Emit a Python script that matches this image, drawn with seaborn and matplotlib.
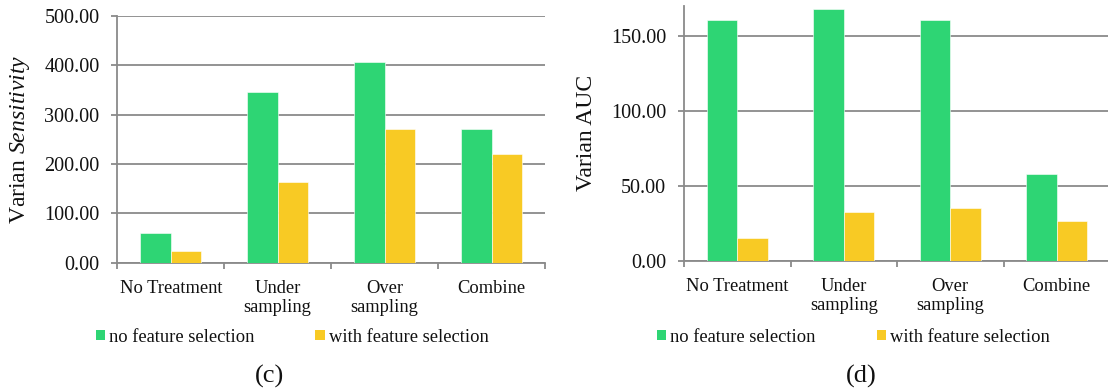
import matplotlib
matplotlib.use("Agg")
import matplotlib.pyplot as plt
from matplotlib.ticker import FixedLocator, FormatStrFormatter
from matplotlib.patches import Patch
import pandas as pd
import seaborn as sns

# ---- data -------------------------------------------------------------
categories = ["No Treatment", "Under\nsampling", "Over\nsampling", "Combine"]
series_names = ["no feature selection", "with feature selection"]

sens_no_fs = [61, 345, 406, 271]
sens_with_fs = [24, 164, 271, 221]

auc_no_fs = [160.5, 168.3, 160.5, 57.8]
auc_with_fs = [15.1, 32.5, 35.3, 26.4]

sens_ticks = [0, 100, 200, 300, 400, 500]
auc_ticks = [0, 50, 100, 150]

# ---- style ------------------------------------------------------------
sns.set_theme(style="white")
plt.rcParams["font.family"] = ["Liberation Serif", "DejaVu Serif"]
plt.rcParams["mathtext.fontset"] = "custom"
plt.rcParams["mathtext.rm"] = "Liberation Serif"
plt.rcParams["mathtext.it"] = "Liberation Serif:italic"

GREEN = "#2ED574"
YELLOW = "#F8CA24"
GRID = "#8a8a8a"
TEXT = "#111111"

W, H = 1108, 391
fig = plt.figure(figsize=(W / 100, H / 100), dpi=100)


def long_frame(a, b):
    rows = []
    for cat, v in zip(categories, a):
        rows.append((cat, series_names[0], v))
    for cat, v in zip(categories, b):
        rows.append((cat, series_names[1], v))
    return pd.DataFrame(rows, columns=["method", "selection", "value"])


def panel(rect_px, df, ticks, ymax, ylabel):
    x0, y_top, x1, y_bot = rect_px
    ax = fig.add_axes([x0 / W, 1 - y_bot / H, (x1 - x0) / W, (y_bot - y_top) / H])
    sns.barplot(
        data=df, x="method", y="value", hue="selection",
        order=categories, hue_order=series_names,
        palette=[GREEN, YELLOW], saturation=1, width=0.57,
        edgecolor="#ffffff", linewidth=0.4, legend=False, ax=ax, zorder=3,
    )
    ax.set_xlim(-0.5, 3.5)
    ax.set_ylim(0, ymax)
    ax.yaxis.set_major_locator(FixedLocator(ticks))
    ax.yaxis.set_major_formatter(FormatStrFormatter("%.2f"))
    ax.grid(axis="y", color=GRID, linewidth=1.3, zorder=0)
    ax.set_axisbelow(True)
    for side in ("top", "right"):
        ax.spines[side].set_visible(False)
    for side in ("left", "bottom"):
        ax.spines[side].set_color(GRID)
        ax.spines[side].set_linewidth(1.3)
    ax.tick_params(axis="y", which="major", direction="out", length=4.3,
                   width=1.3, color=GRID, pad=8.6, labelsize=14.5,
                   labelcolor=TEXT, left=True)
    # category labels sit between boundary tick marks
    ax.tick_params(axis="x", which="major", length=0, pad=12.3,
                   labelsize=13.3, labelcolor=TEXT, bottom=True)
    ax.xaxis.set_minor_locator(FixedLocator([-0.5, 0.5, 1.5, 2.5, 3.5]))
    ax.tick_params(axis="x", which="minor", direction="out", length=4,
                   width=1.3, color=GRID, bottom=True)
    for lab in ax.get_xticklabels():
        lab.set_linespacing(1.15)
    ax.set_xlabel("")
    ax.set_ylabel(ylabel, fontsize=17, color=TEXT)
    ax.yaxis.label.set_va("center")
    ax.yaxis.set_label_coords(-97 / (x1 - x0), 0.5)
    return ax


ax_c = panel((117.3, 16, 545, 262.7), long_frame(sens_no_fs, sens_with_fs),
             sens_ticks, 500, r"Varian $\mathit{Sensitivity}$")
ax_d = panel((684, 6, 1110, 260.7), long_frame(auc_no_fs, auc_with_fs),
             auc_ticks, 170, "Varian AUC")

# ---- legends below each panel ----------------------------------------
handles = [Patch(facecolor=GREEN, edgecolor="none"),
           Patch(facecolor=YELLOW, edgecolor="none")]
for x_left in (95.7, 657):
    fig.legend(handles, series_names, loc="center left",
               bbox_to_anchor=(x_left / W, 1 - 337 / H),
               bbox_transform=fig.transFigure, ncol=2, frameon=False,
               fontsize=13.3, handlelength=0.5, handleheight=0.5,
               handletextpad=0.22, columnspacing=3.3, borderpad=0,
               borderaxespad=0, labelcolor=TEXT)

# ---- panel captions ----------------------------------------------------
fig.text(269.5 / W, 1 - 376 / H, "(c)", ha="center", va="center",
         fontsize=19, color=TEXT)
fig.text(861 / W, 1 - 376 / H, "(d)", ha="center", va="center",
         fontsize=19, color=TEXT)

fig.savefig("out.png", dpi=100, facecolor="white")
